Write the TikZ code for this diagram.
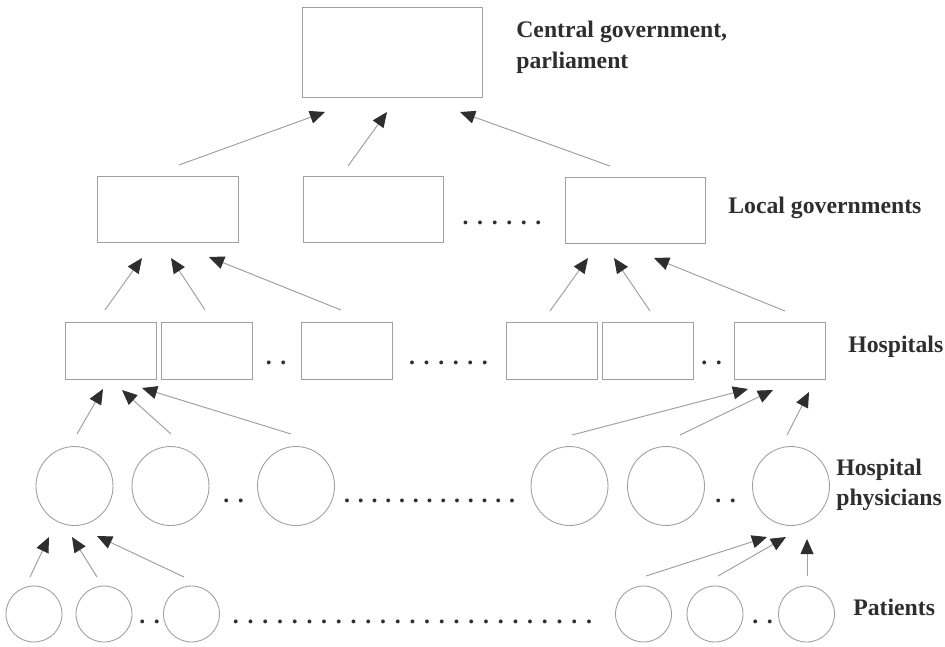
\documentclass[tikz,border=0pt]{standalone}
\usepackage{fontspec}
\setmainfont{Liberation Serif}
\usetikzlibrary{arrows.meta,shapes.geometric}
\definecolor{lin}{HTML}{A0A0A0}
\definecolor{ink}{HTML}{2E2E2E}
\newcommand{\drow}[2]{.\foreach \i in {2,...,#1}{\hspace{#2}.}}
\tikzset{
  lvlbox/.style={draw=lin, line width=0.5pt, inner sep=0pt},
  rnd/.style={ellipse, draw=lin, line width=0.5pt, inner sep=0pt},
  lbl/.style={anchor=base west, inner sep=0pt, text=ink, font=\bfseries\fontsize{13.5}{17}\selectfont},
  dotrow/.style={inner sep=0pt, text=ink, font=\bfseries\fontsize{13.5}{17}\selectfont},
  arr/.style={draw=lin, line width=0.55pt, -{Triangle[length=8.6pt,width=7.4pt,color=ink]}}
}
\begin{document}
\begin{tikzpicture}[x=0.02cm,y=-0.02cm]
\useasboundingbox[fill=white] (0,0) rectangle (945,646);

% top
\node[lvlbox, minimum width=3.6cm, minimum height=1.8cm] (cg) at (392,52) {};
\node[lbl] (cgt1) at (516,37) {Central government,};
\node[lbl] (cgt2) at (516,68) {parliament};

% local governments
\node[lvlbox, minimum width=2.82cm, minimum height=1.32cm] (lg1) at (167.5,209.5) {};
\node[lvlbox, minimum width=2.8cm, minimum height=1.32cm] (lg2) at (373,209.5) {};
\node[lvlbox, minimum width=2.8cm, minimum height=1.32cm] (lg3) at (635,210) {};
\node[dotrow] (lgd) at (502,223) {\drow{6}{4.9pt}};
\node[lbl] (lgt) at (728,213) {Local governments};

% hospitals
\foreach \n/\x in {h1/110.5,h2/206.5,h3/346.5,h4/551.5,h5/647.5,h6/780}{
  \node[lvlbox, minimum width=1.82cm, minimum height=1.14cm] (\n) at (\x,350.5) {};
}
\node[dotrow] (hd1) at (276,363) {\drow{2}{4.9pt}};
\node[dotrow] (hd2) at (448.5,363) {\drow{6}{4.9pt}};
\node[dotrow] (hd3) at (711.5,363) {\drow{2}{4.9pt}};
\node[lbl] (ht) at (848,352) {Hospitals};

% hospital physicians
\foreach \n/\x in {p1/74.5,p2/170.5,p3/296,p4/569.5,p5/666,p6/791}{
  \node[rnd, minimum width=1.54cm, minimum height=1.58cm] (\n) at (\x,486) {};
}
\node[dotrow] (pd1) at (233.5,501) {\drow{2}{4.9pt}};
\node[dotrow] (pd2) at (429.5,501) {\drow{13}{4.45pt}};
\node[dotrow] (pd3) at (725.5,501) {\drow{2}{4.9pt}};
\node[lbl] (pt1l) at (836,475) {Hospital};
\node[lbl] (pt2l) at (836,505) {physicians};

% patients
\foreach \n/\x in {q1/34,q2/104,q3/191.5,q4/643.5,q5/715,q6/806.5}{
  \node[rnd, minimum width=1.12cm, minimum height=1.12cm] (\n) at (\x,614) {};
}
\node[dotrow] (qd1) at (149.5,622) {\drow{2}{4.9pt}};
\node[dotrow] (qd2) at (412.5,622) {\drow{25}{5.0pt}};
\node[dotrow] (qd3) at (762.5,622) {\drow{2}{4.9pt}};
\node[lbl] (qt) at (853,615) {Patients};

% arrow end points
\coordinate (a1s) at (179,165); \coordinate (a1t) at (325,112);
\coordinate (a2s) at (348,166); \coordinate (a2t) at (387,112);
\coordinate (a3s) at (610,166); \coordinate (a3t) at (460,112);

\coordinate (b1s) at (105,310); \coordinate (b1t) at (142,258);
\coordinate (b2s) at (205,310); \coordinate (b2t) at (171,258);
\coordinate (b3s) at (341,310); \coordinate (b3t) at (209,257);
\coordinate (b4s) at (550,311); \coordinate (b4t) at (588,258);
\coordinate (b5s) at (650,311); \coordinate (b5t) at (614,258);
\coordinate (b6s) at (785,311); \coordinate (b6t) at (654,258);

\coordinate (c1s) at (77,434);  \coordinate (c1t) at (103,389);
\coordinate (c2s) at (171,434); \coordinate (c2t) at (122,390);
\coordinate (c3s) at (291,434); \coordinate (c3t) at (142,388);
\coordinate (c4s) at (572,435); \coordinate (c4t) at (748,389);
\coordinate (c5s) at (680,435); \coordinate (c5t) at (773,390);
\coordinate (c6s) at (787,435); \coordinate (c6t) at (809,392);

\coordinate (d1s) at (30,577);  \coordinate (d1t) at (49,537);
\coordinate (d2s) at (97,577);  \coordinate (d2t) at (72,537);
\coordinate (d3s) at (184,577); \coordinate (d3t) at (97,536);
\coordinate (d4s) at (646,576); \coordinate (d4t) at (767,537);
\coordinate (d5s) at (718,576); \coordinate (d5t) at (786,537);
\coordinate (d6s) at (807,576); \coordinate (d6t) at (807,539);

\foreach \a in {a1,a2,a3,b1,b2,b3,b4,b5,b6,c1,c2,c3,c4,c5,c6,d1,d2,d3,d4,d5,d6}{
  \draw[arr] (\a s) -- (\a t);
}
\end{tikzpicture}
\end{document}
